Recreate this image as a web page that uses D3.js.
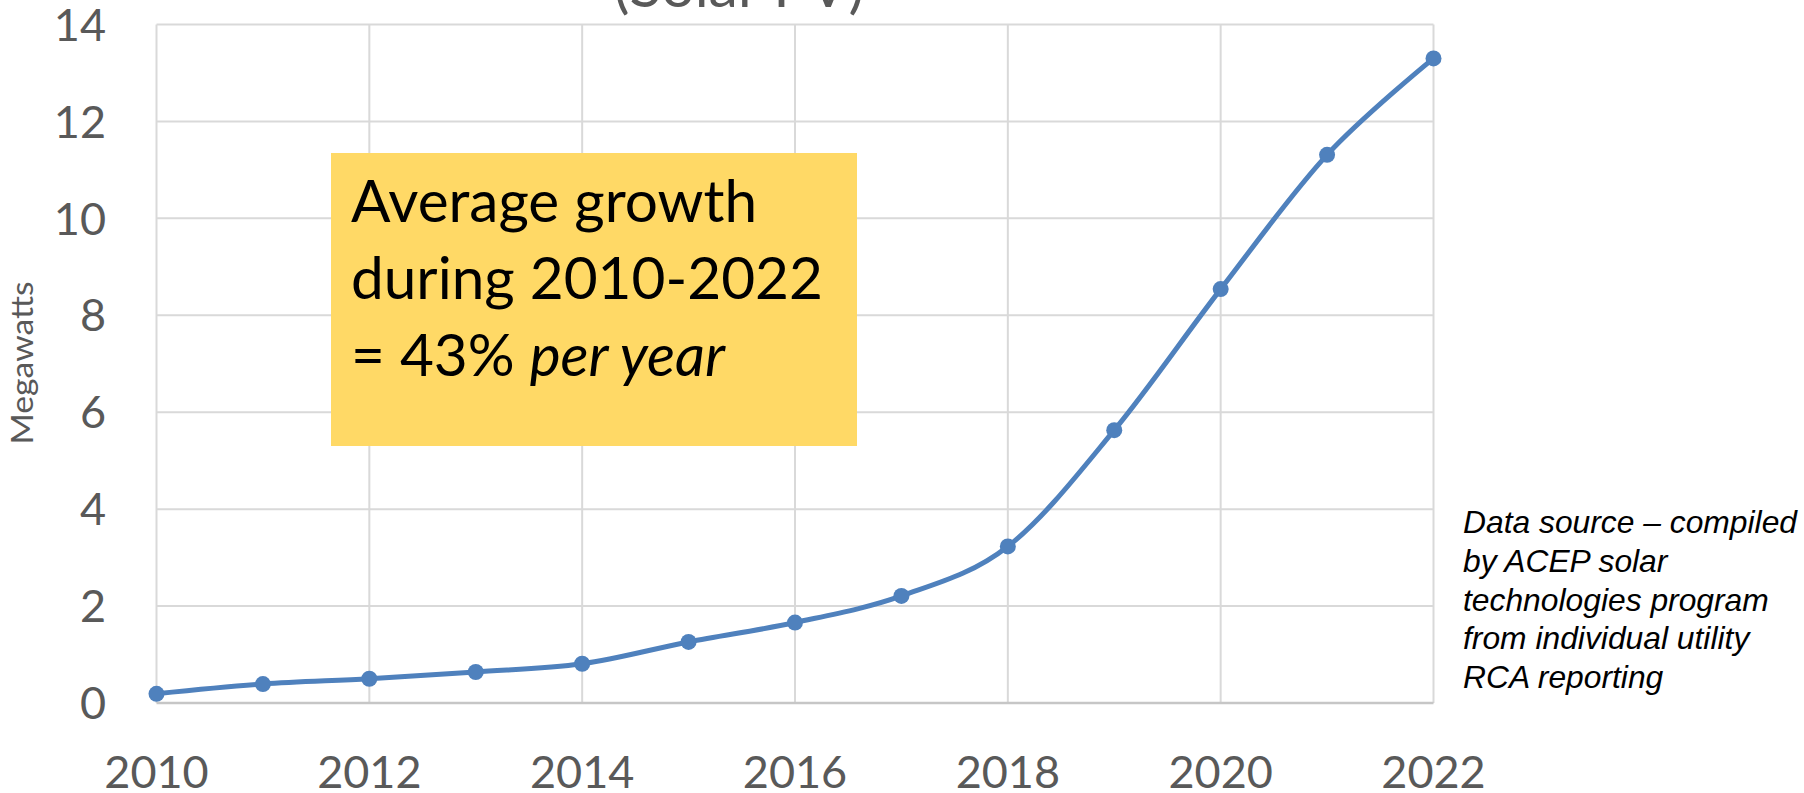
<!DOCTYPE html>
<html>
<head>
<meta charset="utf-8">
<script src="https://cdn.jsdelivr.net/npm/d3@7/dist/d3.min.js"></script>
<style>
  html, body { margin: 0; padding: 0; background: #fff; }
  svg { display: block; }
</style>
</head>
<body>
<svg id="chart" width="1804" height="793"></svg>
<script>
// ---- data ----
const years = [2010, 2011, 2012, 2013, 2014, 2015, 2016, 2017, 2018, 2019, 2020, 2021, 2022];
const megawatts = [0.19, 0.39, 0.50, 0.64, 0.81, 1.26, 1.66, 2.21, 3.23, 5.63, 8.54, 11.31, 13.30];
const xTicks = [2010, 2012, 2014, 2016, 2018, 2020, 2022];
const yTicks = [0, 2, 4, 6, 8, 10, 12, 14];
const titleText = "(Solar PV)";
const yAxisTitle = "Megawatts";
const boxLines = ["Average growth", "during 2010-2022"];
const boxLine3 = ["= 43% ", "per year"];
const sourceLines = ["Data source \u2013 compiled", "by ACEP solar", "technologies program", "from individual utility", "RCA reporting"];

// ---- layout ----
const svg = d3.select("#chart");
const x = d3.scaleLinear().domain([2010, 2022]).range([156.5, 1433.5]);
const y = d3.scaleLinear().domain([0, 14]).range([703, 24.5]);
const gridColor = "#d9d9d9";
const textGray = "#595959";
const font = "Lato, 'Open Sans', sans-serif";

// title (cut off at top, as in the original)
svg.append("text")
  .attr("x", 739).attr("y", 7)
  .attr("text-anchor", "middle")
  .attr("font-family", font).attr("font-size", 59)
  .attr("fill", textGray)
  .text(titleText);

// gridlines
svg.append("g").selectAll("line").data(yTicks.filter(d => d > 0)).join("line")
  .attr("x1", x(2010)).attr("x2", x(2022))
  .attr("y1", d => y(d)).attr("y2", d => y(d))
  .attr("stroke", gridColor).attr("stroke-width", 2);
svg.append("g").selectAll("line").data(xTicks).join("line")
  .attr("x1", d => x(d)).attr("x2", d => x(d))
  .attr("y1", y(0)).attr("y2", y(14))
  .attr("stroke", gridColor).attr("stroke-width", 2);

// x axis line
svg.append("line")
  .attr("x1", x(2010)).attr("x2", x(2022))
  .attr("y1", y(0)).attr("y2", y(0))
  .attr("stroke", "#c6c6c6").attr("stroke-width", 2.5);

// y tick labels
svg.append("g").selectAll("text").data(yTicks).join("text")
  .attr("x", 106).attr("y", d => y(d))
  .attr("dy", "0.36em")
  .attr("text-anchor", "end")
  .attr("font-family", font).attr("font-size", 45)
  .attr("fill", textGray)
  .text(d => d);

// x tick labels
svg.append("g").selectAll("text").data(xTicks).join("text")
  .attr("x", d => x(d)).attr("y", 788)
  .attr("text-anchor", "middle")
  .attr("font-family", font).attr("font-size", 45)
  .attr("fill", textGray)
  .text(d => d);

// y axis title
svg.append("text")
  .attr("transform", "translate(33,363) rotate(-90)")
  .attr("text-anchor", "middle")
  .attr("font-family", font).attr("font-size", 31)
  .attr("textLength", 163).attr("lengthAdjust", "spacingAndGlyphs")
  .attr("fill", textGray)
  .text(yAxisTitle);

// annotation box
svg.append("rect")
  .attr("x", 331).attr("y", 153).attr("width", 526).attr("height", 293)
  .attr("fill", "#FFD966");
const bt = svg.append("g").attr("font-family", font).attr("font-size", 58.5).attr("fill", "#000");
boxLines.forEach((t, i) => {
  bt.append("text").attr("x", 351).attr("y", 222 + i * 77).text(t);
});
const l3 = bt.append("text").attr("x", 351).attr("y", 376);
l3.append("tspan").text(boxLine3[0]);
l3.append("tspan").attr("font-style", "italic").text(boxLine3[1]);

// data source note
svg.append("g").selectAll("text").data(sourceLines).join("text")
  .attr("x", 1463).attr("y", (d, i) => 533 + i * 38.8)
  .attr("font-family", "'Liberation Sans', Arial, sans-serif")
  .attr("font-style", "italic").attr("font-size", 31.8)
  .attr("fill", "#000")
  .text(d => d);

// line series
const pts = years.map((yr, i) => [yr, megawatts[i]]);
const lineGen = d3.line().x(d => x(d[0])).y(d => y(d[1])).curve(d3.curveCardinal.tension(0));
svg.append("path").datum(pts)
  .attr("d", lineGen)
  .attr("fill", "none").attr("stroke", "#4F81BD").attr("stroke-width", 5)
  .attr("stroke-linejoin", "round").attr("stroke-linecap", "round");
svg.append("g").selectAll("circle").data(pts).join("circle")
  .attr("cx", d => x(d[0])).attr("cy", d => y(d[1])).attr("r", 8)
  .attr("fill", "#4F81BD");
</script>
</body>
</html>
